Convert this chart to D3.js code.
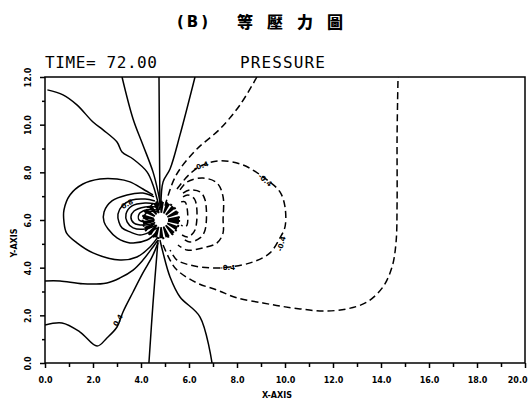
<!DOCTYPE html>
<html><head><meta charset="utf-8">
<script src="https://cdn.jsdelivr.net/npm/d3@7"></script>
<style>
html,body{margin:0;padding:0;background:#fff;}
svg{display:block;}
</style>
</head><body>
<svg id="chart" width="528" height="404"></svg>
<script>
// ---- data (data units) ----
const xTicksMajor = [0,2,4,6,8,10,12,14,16,18,20];
const xTicksMinor = [1,3,5,7,9,11,13,15,17,19];
const yTicksMajor = [0,2,4,6,8,10,12];
const yTicksMinor = [1,3,5,7,9,11];

// solid (positive / zero level) contour lines
const lineA = [[0.1,11.46],[0.75,11.25],[1.33,10.83],[2.0,10.11],[2.42,9.78],[3.0,9.27],[3.21,8.85],[3.67,8.56],[4.25,8.02],[4.5,7.47],[4.67,6.88],[4.79,6.42]];
const lineB = [[3.21,12],[3.67,10.24],[4.08,9.15],[4.5,8.02],[4.71,7.18],[4.83,6.5]];
const lineC = [[4.75,12],[4.77,9],[4.79,6.6]];
const lineK = [[6.25,12],[5.625,9.57],[5.21,8.14],[4.92,7.6],[4.83,6.6]];
const lineE = [[0,3.44],[0.625,3.44],[1.58,3.32],[2.58,3.36],[3.125,3.57],[3.67,3.9],[4.08,4.32],[4.5,4.87],[4.71,5.16]];
const lineF = [[0,1.59],[0.71,1.68],[1.46,1.30],[2.17,0.71],[2.58,1.05],[3.0,1.51],[3.25,2.14],[3.67,2.98],[4.08,3.78],[4.46,4.45],[4.71,5.04]];
const lineG = [[4.33,0],[4.5,2.5],[4.71,5.16]];
const lineI = [[6.96,0],[6.46,1.93],[5.625,2.77],[5.21,3.61],[4.92,4.62],[4.79,5.16]];
const loopD1 = [[4.5,7.05],[4.08,7.30],[3.54,7.60],[3.0,7.72],[2.29,7.72],[1.58,7.51],[1.04,7.05],[0.79,6.42],[0.79,5.92],[0.9,5.45],[1.33,5.04],[2.0,4.62],[3.125,4.32],[3.83,4.45],[4.375,4.87],[4.71,5.29]];
const loopD2 = [[4.54,6.97],[4.08,7.13],[3.42,7.05],[2.79,6.80],[2.46,6.34],[2.46,5.92],[2.63,5.62],[3.0,5.25],[3.54,5.04],[4.25,5.16],[4.625,5.46]];
const loopD3 = [[4.58,6.80],[4.17,6.88],[3.625,6.84],[3.21,6.59],[3.04,6.25],[3.08,5.92],[3.21,5.67],[3.54,5.50],[3.96,5.37],[4.375,5.50],[4.67,5.67]];
const loopD4 = [[4.625,6.67],[4.17,6.71],[3.625,6.59],[3.375,6.25],[3.42,5.92],[3.67,5.67],[4.17,5.62],[4.67,5.79]];
const loopD5 = [[4.67,6.55],[4.17,6.55],[3.71,6.38],[3.58,6.13],[3.71,5.87],[4.17,5.79],[4.67,5.92]];
const loopD6 = [[4.67,6.42],[4.21,6.42],[3.92,6.25],[3.92,6.00],[4.21,5.92],[4.67,6.00]];
const loopD7 = [[4.71,6.34],[4.29,6.34],[4.125,6.13],[4.29,6.00],[4.71,6.04]];

// dashed (negative level) contour lines
const lineL = [[8.83,12],[8.125,10.83],[7.29,9.82],[6.33,8.98],[5.625,8.14],[5.33,7.60],[5.0,6.6]];
const lineM = [[4.92,4.95],[5.21,4.32],[5.5,3.9],[6.33,3.36],[7.17,3.06],[8.0,2.73],[9.08,2.52],[9.79,2.39],[10.625,2.27],[11.58,2.18],[12.58,2.27],[13.42,2.56],[14.08,3.19],[14.46,4.03],[14.625,5.04],[14.67,6.71],[14.67,9.48],[14.71,12]];
const loopN1 = [[5.5,7.3],[6.0,7.9],[6.58,8.31],[7.29,8.48],[8.25,8.31],[9.25,7.68],[9.79,7.18],[10.0,6.55],[10.0,5.71],[9.79,5.25],[9.375,4.62],[8.67,4.24],[7.71,4.03],[6.875,3.99],[6.04,4.11],[5.5,4.32],[5.21,4.74]];
const loopN2 = [[5.625,7.26],[5.92,7.60],[6.58,7.76],[7.17,7.55],[7.42,6.97],[7.42,6.00],[7.42,5.46],[7.17,5.04],[6.58,4.83],[5.92,4.74],[5.54,4.95]];
const loopN3 = [[5.75,7.13],[6.04,7.26],[6.46,7.18],[6.67,6.84],[6.67,5.58],[6.46,5.25],[6.04,5.08],[5.71,5.25]];
const loopN4 = [[5.75,6.97],[5.96,7.05],[6.25,6.84],[6.25,5.58],[5.96,5.29],[5.71,5.37]];
const loopN5 = [[5.67,6.76],[5.83,6.76],[5.92,6.50],[5.92,5.79],[5.83,5.71],[5.67,5.79]];

const contourLevels = [
  {pts: lineA, level: 0.0}, {pts: lineB, level: 0.0}, {pts: lineC, level: 0.0}, {pts: lineK, level: 0.0},
  {pts: lineE, level: 0.0}, {pts: lineF, level: 0.0}, {pts: lineG, level: 0.0}, {pts: lineI, level: 0.0},
  {pts: loopD1, level: 0.4}, {pts: loopD2, level: 0.8}, {pts: loopD3, level: 1.2}, {pts: loopD4, level: 1.6},
  {pts: loopD5, level: 2.0}, {pts: loopD6, level: 2.4}, {pts: loopD7, level: 2.8},
  {pts: lineL, level: -0.1}, {pts: lineM, level: -0.1}, {pts: loopN1, level: -0.4}, {pts: loopN2, level: -0.8},
  {pts: loopN3, level: -1.2}, {pts: loopN4, level: -1.6}, {pts: loopN5, level: -2.0}
];

const contourLabels = [
  {x: 3.04, y: 1.80, text: "0.4", angle: -60},
  {x: 3.42, y: 6.67, text: "0.8", angle: -30},
  {x: 6.5, y: 8.27, text: "-0.4", angle: -20},
  {x: 9.17, y: 7.68, text: "-0.4", angle: 40},
  {x: 9.85, y: 5.0, text: "-0.4", angle: -75},
  {x: 7.6, y: 3.99, text: "-0.4", angle: 0}
];
const cylinder = {x: 4.83, y: 6.0, r: 0.33};

const titleText = "(B)";
const titleCJK = "等壓力圖";
const timeText = "TIME= 72.00";
const varText = "PRESSURE";

// ---- drawing ----
const svg = d3.select("#chart");
const x = d3.scaleLinear().domain([0,20]).range([45,525]);
const y = d3.scaleLinear().domain([0,12]).range([363,77]);

svg.append("defs").append("clipPath").attr("id","clip")
  .append("rect").attr("x",45).attr("y",77).attr("width",480).attr("height",286);

const g = svg.append("g").attr("clip-path","url(#clip)");
const line = d3.line().x(d=>x(d[0])).y(d=>y(d[1])).curve(d3.curveCatmullRom.alpha(0.5));

g.selectAll("path.c").data(contourLevels).enter().append("path")
  .attr("class","c")
  .attr("d", d=>line(d.pts))
  .attr("fill","none")
  .attr("stroke","#000")
  .attr("stroke-width",1.5)
  .attr("stroke-dasharray", d=> d.level < 0 ? "7,4" : null);

// dark scribble around the body
const r0 = x(cylinder.x + cylinder.r) - x(cylinder.x);
g.append("circle").attr("cx",x(cylinder.x)).attr("cy",y(cylinder.y)).attr("r",r0*1.6)
  .attr("fill","none").attr("stroke","#000").attr("stroke-width",r0*1.4).attr("stroke-dasharray","3,1.5");
g.append("circle").attr("cx",x(cylinder.x)).attr("cy",y(cylinder.y)).attr("r",r0*2.3)
  .attr("fill","none").attr("stroke","#000").attr("stroke-width",2).attr("stroke-dasharray","2,3");
g.append("circle").attr("cx",x(cylinder.x)).attr("cy",y(cylinder.y)).attr("r",r0*0.8).attr("fill","#fff");

g.selectAll("text.lab").data(contourLabels).enter().append("text")
  .attr("class","lab")
  .attr("transform", d=>`translate(${x(d.x)},${y(d.y)}) rotate(${d.angle})`)
  .attr("text-anchor","middle").attr("dy","0.35em")
  .attr("font-family","DejaVu Sans").attr("font-weight","bold").attr("font-size",7)
  .attr("fill","#000")
  .text(d=>d.text);

// frame
svg.append("rect").attr("x",45).attr("y",77).attr("width",480).attr("height",286)
  .attr("fill","none").attr("stroke","#000").attr("stroke-width",1.5);

// axes
const fmt = d3.format(".1f");
const xa = svg.append("g").attr("transform","translate(0,363)")
  .call(d3.axisBottom(x).tickValues(xTicksMajor).tickSize(5).tickPadding(9).tickFormat(fmt));
svg.append("g").attr("transform","translate(0,363)")
  .call(d3.axisBottom(x).tickValues(xTicksMinor).tickSize(4).tickFormat(""));
const ya = svg.append("g").attr("transform","translate(45,0)")
  .call(d3.axisLeft(y).tickValues(yTicksMajor).tickSize(5).tickFormat(fmt));
svg.append("g").attr("transform","translate(45,0)")
  .call(d3.axisLeft(y).tickValues(yTicksMinor).tickSize(3).tickFormat(""));
svg.selectAll(".domain").remove();
svg.selectAll(".tick line").attr("stroke","#000").attr("stroke-width",1.5);
xa.selectAll("text").attr("font-family","DejaVu Sans").attr("font-weight","bold").attr("font-size",8).attr("fill","#000");
// last x label sits at the right edge: keep it inside the page
xa.selectAll(".tick").filter(d=>d===20).select("text").attr("text-anchor","end").attr("x",2);
ya.selectAll("text")
  .attr("font-family","DejaVu Sans").attr("font-weight","bold").attr("font-size",8).attr("fill","#000")
  .attr("text-anchor","middle").attr("x",null).attr("dy",null)
  .attr("transform","translate(-14,0) rotate(-90)");

svg.append("text").attr("x",277).attr("y",398).attr("text-anchor","middle")
  .attr("font-family","DejaVu Sans").attr("font-weight","bold").attr("font-size",8).text("X-AXIS");
svg.append("text").attr("transform","translate(17,243) rotate(-90)").attr("text-anchor","middle")
  .attr("font-family","DejaVu Sans").attr("font-weight","bold").attr("font-size",8).text("Y-AXIS");

// titles
svg.append("text").attr("x",177).attr("y",27)
  .attr("font-family","DejaVu Sans").attr("font-weight","bold").attr("font-size",15)
  .attr("letter-spacing",3).text(titleText);
svg.append("text").attr("x",237).attr("y",28)
  .attr("font-family","Noto Sans CJK TC").attr("font-weight",900).attr("font-size",16)
  .attr("letter-spacing",14).text(titleCJK);
svg.append("text").attr("x",45).attr("y",68)
  .attr("font-family","DejaVu Sans Mono").attr("font-size",16).attr("textLength",112)
  .text(timeText);
svg.append("text").attr("x",240).attr("y",68)
  .attr("font-family","DejaVu Sans Mono").attr("font-size",16).attr("textLength",85)
  .text(varText);
</script>
</body></html>
